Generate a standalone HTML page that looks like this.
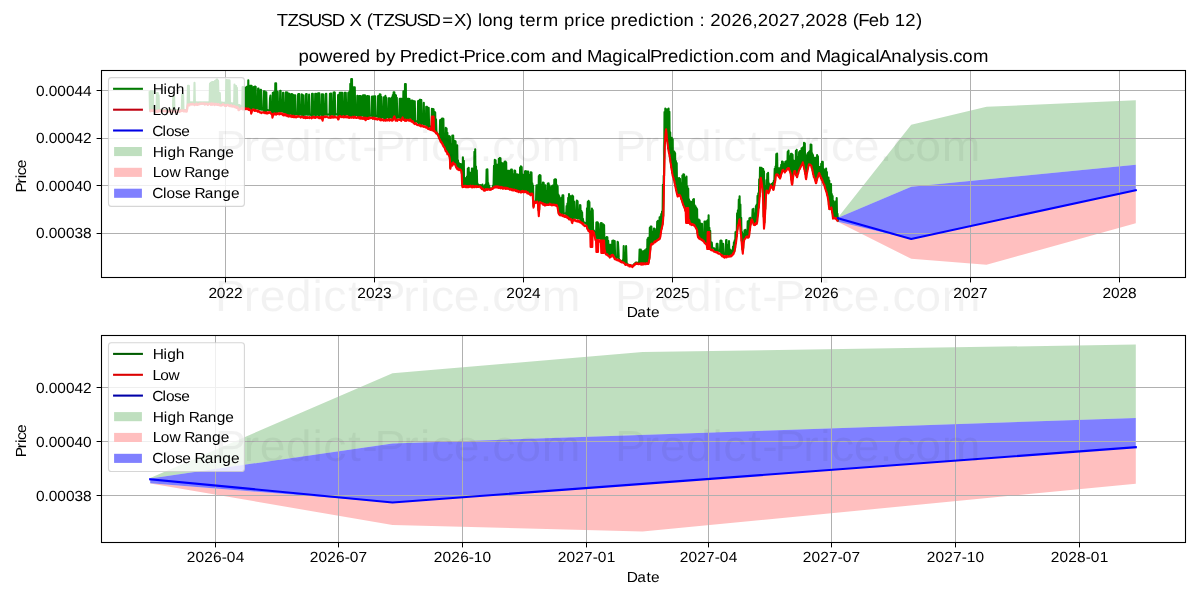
<!DOCTYPE html>
<html><head><meta charset="utf-8"><title>TZSUSD X price prediction</title>
<style>html,body{margin:0;padding:0;background:#fff;}body{width:1200px;height:600px;overflow:hidden;font-family:"Liberation Sans",sans-serif;}svg{display:block;}text{text-rendering:geometricPrecision;}</style></head>
<body>
<svg width="1200" height="600" viewBox="0 0 1200 600" font-family="'Liberation Sans', sans-serif">
<rect width="1200" height="600" fill="#fff"/>
<defs><filter id="nf" x="-5%" y="-50%" width="110%" height="200%"><feOffset dx="0" dy="0"/></filter><clipPath id="c1"><rect x="101.5" y="70.5" width="1084" height="207"/></clipPath><clipPath id="c2"><rect x="101.5" y="335.5" width="1084" height="207"/></clipPath></defs>
<g clip-path="url(#c1)">
<polygon points="838,217.6 911.2,124.8 986.5,106.8 1135.8,100.2 1135.8,164.7 911.2,186.8 838,217.8" fill="#008000" fill-opacity="0.25"/>
<polygon points="838,221.8 911.2,238.9 1135.8,190.2 1135.8,223.2 986.5,264.8 911.2,258.8 838,222" fill="#ff0000" fill-opacity="0.25"/>
<polygon points="838,217.8 911.2,186.8 1135.8,164.7 1135.8,190.2 911.2,238.9 838,221.8" fill="#0000ff" fill-opacity="0.5"/>
</g>
<line x1="225.5" y1="70.5" x2="225.5" y2="277.5" stroke="#b0b0b0" stroke-width="1"/>
<line x1="374.5" y1="70.5" x2="374.5" y2="277.5" stroke="#b0b0b0" stroke-width="1"/>
<line x1="523.5" y1="70.5" x2="523.5" y2="277.5" stroke="#b0b0b0" stroke-width="1"/>
<line x1="672.5" y1="70.5" x2="672.5" y2="277.5" stroke="#b0b0b0" stroke-width="1"/>
<line x1="821.5" y1="70.5" x2="821.5" y2="277.5" stroke="#b0b0b0" stroke-width="1"/>
<line x1="970.5" y1="70.5" x2="970.5" y2="277.5" stroke="#b0b0b0" stroke-width="1"/>
<line x1="1119.5" y1="70.5" x2="1119.5" y2="277.5" stroke="#b0b0b0" stroke-width="1"/>
<line x1="101.5" y1="90.5" x2="1185.5" y2="90.5" stroke="#b0b0b0" stroke-width="1"/>
<line x1="101.5" y1="138.5" x2="1185.5" y2="138.5" stroke="#b0b0b0" stroke-width="1"/>
<line x1="101.5" y1="185.5" x2="1185.5" y2="185.5" stroke="#b0b0b0" stroke-width="1"/>
<line x1="101.5" y1="233.5" x2="1185.5" y2="233.5" stroke="#b0b0b0" stroke-width="1"/>
<g clip-path="url(#c1)" fill="none" stroke-linejoin="round">
<polyline points="149.6,91.2 150,110.4 150.4,91.2 150.8,110.4 151.2,91.2 151.6,110.4 152,91.2 152.5,110.4 152.9,91.2 153.3,110.4 153.7,109.3 154.1,110.4 154.5,110 154.9,110.4 155.3,110 155.7,110.4 156.1,110 156.5,110.4 156.9,93 157.4,110.4 157.8,93 158.2,110.4 158.6,95.3 159,110.4 159.4,110 159.8,110.4 160.2,110 160.6,110.4 161,110 161.4,110.4 161.8,110 162.2,110.4 162.7,110 163.1,110.5 163.5,110 163.9,110.5 164.3,110 164.7,110.5 165.1,110 165.5,110.5 165.9,110 166.3,110.5 166.7,110 167.1,110.5 167.6,110 168,110.6 168.4,110 168.8,110.6 169.2,110 169.6,110.6 170,110 170.4,110.6 170.8,110 171.2,110.6 171.6,110 172,110.6 172.4,110 172.9,110.5 173.3,96.9 173.7,110.5 174.1,96 174.5,110.5 174.9,110 175.3,110.5 175.7,110 176.1,110.5 176.5,110 176.9,110.5 177.3,110 177.8,110.4 178.2,110 178.6,110.4 179,110 179.4,110.4 179.8,110 180.2,110.4 180.6,110 181,110.4 181.4,109.3 181.8,110.4 182.2,94.5 182.6,110.4 183.1,94.5 183.5,110.4 183.9,110 184.3,110.4 184.7,110 185.1,110.4 185.5,110 185.9,110.4 186.3,110 186.7,110.4 187.1,109 187.5,104.8 188,85.8 188.4,104.2 188.8,85.8 189.2,104.1 189.6,102.4 190,104.1 190.4,102.4 190.8,104 191.2,102.4 191.6,104 192,102.4 192.4,103.9 192.8,102.4 193.3,103.9 193.7,102.4 194.1,103.9 194.5,82.7 194.9,103.8 195.3,102.4 195.7,103.8 196.1,102.4 196.5,103.7 196.9,102.4 197.3,103.7 197.7,102.4 198.2,103.7 198.6,102.4 199,103.6 199.4,102.4 199.8,103.6 200.2,102.4 200.6,103.6 201,102.4 201.4,103.6 201.8,102.4 202.2,103.6 202.6,102.4 203,103.6 203.5,102.4 203.9,103.6 204.3,102.4 204.7,103.6 205.1,102.4 205.5,103.6 205.9,102.4 206.3,103.6 206.7,102.4 207.1,103.6 207.5,102.4 207.9,103.6 208.4,102.4 208.8,103.6 209.2,102.4 209.6,103.6 210,83.5 210.4,103.6 210.8,82.9 211.2,103.6 211.6,82.2 212,103.7 212.4,82.1 212.8,103.7 213.2,82 213.7,103.7 214.1,81.9 214.5,103.7 214.9,81.1 215.3,103.7 215.7,80.9 216.1,103.8 216.5,79.5 216.9,103.8 217.3,79.5 217.7,103.9 218.1,80.9 218.6,103.9 219,93 219.4,104 219.8,93 220.2,104.1 220.6,102.6 221,104.7 221.4,102.6 221.8,104.8 222.2,102.6 222.6,104.4 223,102.8 223.4,104.3 223.9,102.8 224.3,104.4 224.7,102.8 225.1,104.5 225.5,102.8 225.9,104.6 226.3,80 226.7,104.7 227.1,80.3 227.5,104.8 227.9,80.3 228.3,104.8 228.8,80.3 229.2,104.9 229.6,80.5 230,105 230.4,103.2 230.8,105.1 231.2,103.2 231.6,105.3 232,103.3 232.4,105.4 232.8,103.5 233.2,105.6 233.6,103.5 234.1,105.7 234.5,84.6 234.9,105.9 235.3,85.8 235.7,106.2 236.1,86 236.5,106.5 236.9,87.7 237.3,106.8 237.7,105 238.1,108.1 238.5,105.1 239,109.2 239.4,105.1 239.8,108.2 240.2,105.8 240.6,107.9 241,105.9 241.4,108 241.8,106 242.2,108 242.6,87 243,108.1 243.4,87.1 243.8,108.1 244.3,87.7 244.7,108.1 245.1,87.8 245.5,108.2 245.9,87.6 246.3,108.3 246.7,86.7 247.1,108.4 247.5,86.5 247.9,108.6 248.3,80.3 248.7,108.7 249.2,85.9 249.6,108.8 250,85.8 250.4,109.2 250.8,85.8 251.2,112.4 251.6,85.8 252,108.3 252.4,107.6 252.8,107.6 253.2,107.7 253.6,87 254,87 254.5,109.8 254.9,86.6 255.3,109.8 255.7,86.7 256.1,107.9 256.5,108.1 256.9,108.3 257.3,108.4 257.7,108.6 258.1,88.5 258.5,88.6 258.9,109.1 259.4,109.2 259.8,109.4 260.2,109.5 260.6,89.9 261,89.9 261.4,109.8 261.8,109.8 262.2,109.8 262.6,109.8 263,109.8 263.4,109.8 263.8,91.2 264.2,111.8 264.7,91.3 265.1,111.8 265.5,92.2 265.9,111.9 266.3,92.3 266.7,110 267.1,110.1 267.5,110.1 267.9,110.2 268.3,110.2 268.7,110.2 269.1,110.3 269.6,110.3 270,98.4 270.4,95.6 270.8,110.6 271.2,110.7 271.6,110.8 272,112.1 272.4,114.6 272.8,92.7 273.2,113.9 273.6,92.3 274,113.1 274.4,92.3 274.9,113.2 275.3,83.3 275.7,113.2 276.1,83.3 276.5,113.2 276.9,92 277.3,113.3 277.7,91.9 278.1,111.3 278.5,111.3 278.9,111.4 279.3,111.4 279.8,111.4 280.2,90.8 280.6,90.8 281,111.5 281.4,111.5 281.8,111.5 282.2,111.6 282.6,111.7 283,92.7 283.4,92.8 283.8,112 284.2,112.1 284.6,112.2 285.1,112.3 285.5,112.5 285.9,92.4 286.3,114.7 286.7,92.5 287.1,114.9 287.5,92.6 287.9,115.1 288.3,93.7 288.7,115.3 289.1,93.9 289.5,93.9 290,113.6 290.4,113.6 290.8,113.7 291.2,113.7 291.6,94.1 292,115.8 292.4,94.2 292.8,115.9 293.2,95.1 293.6,115.9 294,95.2 294.4,116 294.8,95.3 295.3,95.3 295.7,114.1 296.1,114.2 296.5,114.2 296.9,114.3 297.3,114.3 297.7,114.3 298.1,94.2 298.5,116.4 298.9,94.1 299.3,94.1 299.7,114.5 300.2,114.5 300.6,114.6 301,114.6 301.4,114.6 301.8,94.2 302.2,95.1 302.6,116.7 303,95.2 303.4,95.2 303.8,115.1 304.2,114.7 304.6,114.7 305,114.7 305.5,114.7 305.9,94.2 306.3,94.1 306.7,94 307.1,114.7 307.5,114.7 307.9,114.8 308.3,114.8 308.7,114.8 309.1,94.5 309.5,114.8 309.9,114.8 310.4,114.8 310.8,114.8 311.2,115.1 311.6,116 312,93.8 312.4,116.8 312.8,93.8 313.2,114.8 313.6,114.8 314,114.8 314.4,114.8 314.8,114.8 315.2,93.7 315.7,116.8 316.1,93.7 316.5,114.8 316.9,114.8 317.3,114.8 317.7,114.8 318.1,93.3 318.5,93.3 318.9,116.8 319.3,93.3 319.7,114.8 320.1,114.8 320.6,114.8 321,114.8 321.4,114.8 321.8,94.3 322.2,118.9 322.6,94.4 323,118.2 323.4,94.5 323.8,114.8 324.2,114.8 324.6,114.7 325,114.7 325.4,114.7 325.9,93.7 326.3,93.7 326.7,114.6 327.1,114.6 327.5,114.6 327.9,114.6 328.3,114.6 328.7,114.5 329.1,114.5 329.5,114.5 329.9,93.7 330.3,116.5 330.8,93.6 331.2,93.6 331.6,114.4 332,114.4 332.4,114.4 332.8,114.4 333.2,114.4 333.6,92.5 334,92.4 334.4,116.4 334.8,92.6 335.2,114.4 335.6,114.4 336.1,114.4 336.5,114.4 336.9,114.4 337.3,114.4 337.7,114.8 338.1,95 338.5,118.5 338.9,94.7 339.3,116.3 339.7,92.9 340.1,116 340.5,92.8 341,116.1 341.4,92.8 341.8,116.1 342.2,92.8 342.6,114.2 343,114.2 343.4,114.2 343.8,114.3 344.2,114.3 344.6,92.8 345,116.3 345.4,92.8 345.8,92.8 346.3,114.4 346.7,114.4 347.1,114.5 347.5,114.5 347.9,114.5 348.3,92.8 348.7,92.8 349.1,116.6 349.5,91.6 349.9,116.7 350.3,83.9 350.7,116.7 351.2,79.1 351.6,116.8 352,79.1 352.4,116.8 352.8,87.4 353.2,116.9 353.6,87.4 354,116.9 354.4,87.4 354.8,87.4 355.2,115 355.6,115 356,115 356.5,115.1 356.9,115.1 357.3,95.8 357.7,96 358.1,117.2 358.5,96.2 358.9,117.2 359.3,96.1 359.7,117.3 360.1,96.1 360.5,117.3 360.9,96.1 361.4,115.4 361.8,115.4 362.2,115.4 362.6,115.5 363,95.4 363.4,95.4 363.8,117.5 364.2,95.3 364.6,117.6 365,95.3 365.4,117.4 365.8,116.7 366.2,115.7 366.7,115.7 367.1,96.1 367.5,96.1 367.9,117.7 368.3,96.2 368.7,117.7 369.1,96.2 369.5,115.7 369.9,115.7 370.3,115.7 370.7,115.7 371.1,115.7 371.6,115.7 372,96.5 372.4,96.5 372.8,117.7 373.2,96.5 373.6,117.7 374,96.2 374.4,117.7 374.8,96.2 375.2,96.2 375.6,115.9 376,116 376.4,116.1 376.9,116.2 377.3,116.3 377.7,116.4 378.1,96 378.5,118.6 378.9,95.7 379.3,118.8 379.7,94.2 380.1,118.9 380.5,94.5 380.9,119.1 381.3,96.9 381.8,117.3 382.2,117.3 382.6,117.3 383,117.3 383.4,117.3 383.8,97.3 384.2,119.3 384.6,97 385,119.3 385.4,95.9 385.8,119.3 386.2,97.6 386.6,117.3 387.1,117.3 387.5,117.4 387.9,117.4 388.3,117.4 388.7,98.3 389.1,119.4 389.5,98.3 389.9,98.2 390.3,117.4 390.7,117.4 391.1,117.4 391.5,117.4 392,97.2 392.4,119.4 392.8,95.1 393.2,118.8 393.6,92.4 394,116.3 394.4,92.4 394.8,117.5 395.2,94.8 395.6,119.4 396,95.3 396.4,119.4 396.8,97.7 397.3,117.5 397.7,117.5 398.1,117.5 398.5,117.5 398.9,117.5 399.3,117.5 399.7,98.7 400.1,98.7 400.5,119.6 400.9,98.7 401.3,119.6 401.7,98.7 402.2,117.8 402.6,98.7 403,118.2 403.4,91.2 403.8,119.7 404.2,98.7 404.6,119.6 405,84.1 405.4,119.6 405.8,84.1 406.2,119.6 406.6,98.7 407,119.5 407.5,98.7 407.9,119.5 408.3,98.7 408.7,119.5 409.1,98.9 409.5,99 409.9,117.4 410.3,117.6 410.7,117.9 411.1,118.2 411.5,100.5 411.9,120.8 412.4,100.6 412.8,121.3 413.2,101.1 413.6,121.9 414,101.2 414.4,122.5 414.8,101.2 415.2,121 415.6,121.1 416,121.3 416.4,121.5 416.8,121.6 417.2,121.8 417.7,122 418.1,101 418.5,124.3 418.9,100.8 419.3,124.6 419.7,99.9 420.1,124.9 420.5,99.8 420.9,125.2 421.3,100.1 421.7,123.4 422.1,123.5 422.6,123.7 423,123.8 423.4,123.9 423.8,102.7 424.2,124.2 424.6,124.3 425,124.4 425.4,124.6 425.8,124.7 426.2,106.7 426.6,127.1 427,106.9 427.4,127.4 427.9,107.8 428.3,127.7 428.7,107.9 429.1,126 429.5,126.2 429.9,126.4 430.3,126.6 430.7,126.8 431.1,127 431.5,127.2 431.9,108.9 432.3,129.8 432.8,109.1 433.2,130.3 433.6,109.4 434,130.6 434.4,111.7 434.8,130.8 435.2,112.4 435.6,131.6 436,119.4 436.4,130.6 436.8,133 437.2,133.5 437.6,134 438.1,134.5 438.5,135.6 438.9,136.6 439.3,137.6 439.7,136.6 440.1,120 440.5,140.2 440.9,119.8 441.3,141.6 441.7,118.7 442.1,143 442.5,118.6 443,144.3 443.4,118.9 443.8,145.9 444.2,146.8 444.6,147.6 445,148.4 445.4,149.2 445.8,127.8 446.2,150.8 446.6,128.5 447,152.1 447.4,132.8 447.8,153.5 448.3,138.3 448.7,154.8 449.1,136.1 449.5,155.7 449.9,136.5 450.3,167.8 450.7,144.7 451.1,161.8 451.5,144 451.9,165.1 452.3,135.6 452.7,163.2 453.2,135.6 453.6,163.2 454,163.9 454.4,163.7 454.8,140.8 455.2,164.2 455.6,141.4 456,166.7 456.4,167 456.8,167.4 457.2,145.3 457.6,168.1 458,160.2 458.5,168.6 458.9,163.1 459.3,169 459.7,163.9 460.1,169.4 460.5,164.1 460.9,169.7 461.3,165 461.7,173.1 462.1,164 462.5,185.9 462.9,157.4 463.4,185.9 463.8,160.8 464.2,185.9 464.6,181.9 465,185.9 465.4,178.6 465.8,185.9 466.2,177.7 466.6,185.9 467,176.5 467.4,185.9 467.8,168.5 468.2,185.9 468.7,167.7 469.1,185.9 469.5,172.3 469.9,185.9 470.3,172.8 470.7,185.9 471.1,185.9 471.5,185.9 471.9,168.6 472.3,185.9 472.7,168.8 473.1,185.9 473.6,169.7 474,185.9 474.4,151.7 474.8,185.9 475.2,149.4 475.6,185.9 476,166.6 476.4,185.9 476.8,170.2 477.2,185.9 477.6,183.6 478,185.9 478.4,185 478.9,185.9 479.3,185.3 479.7,185.9 480.1,185.2 480.5,186.5 480.9,185.3 481.3,187.5 481.7,185.3 482.1,188.5 482.5,184.5 482.9,188.9 483.3,186.4 483.8,189.3 484.2,186.7 484.6,189.3 485,185 485.4,189.2 485.8,184.2 486.2,189.1 486.6,169.5 487,189 487.4,169.4 487.8,188.9 488.2,183.1 488.6,188.8 489.1,185.5 489.5,188.7 489.9,188.7 490.3,188.6 490.7,188.6 491.1,188.5 491.5,188.5 491.9,188.4 492.3,188.2 492.7,187.9 493.1,185.5 493.5,187.2 494,165.7 494.4,186.7 494.8,159.7 495.2,186.3 495.6,160.3 496,185.9 496.4,164.5 496.8,186.1 497.2,164.8 497.6,186.3 498,186.4 498.4,186.5 498.8,158.8 499.3,186.7 499.7,158.1 500.1,186.9 500.5,158.2 500.9,187 501.3,162.5 501.7,187.1 502.1,163.2 502.5,187.2 502.9,163.4 503.3,187.2 503.7,166.8 504.2,187.3 504.6,161.7 505,187.4 505.4,161.5 505.8,187.6 506.2,162.4 506.6,187.9 507,175.2 507.4,188.1 507.8,170.8 508.2,188.4 508.6,170.9 509,188.6 509.5,170.8 509.9,188.9 510.3,175.5 510.7,189 511.1,169.6 511.5,189.2 511.9,169.5 512.3,189.4 512.7,174 513.1,189.5 513.5,189.6 513.9,189.7 514.4,170.5 514.8,189.9 515.2,170.9 515.6,190 516,180.4 516.4,190.3 516.8,174.4 517.2,190.5 517.6,174.6 518,190.7 518.4,175 518.8,190.9 519.2,174.6 519.7,191.1 520.1,167.5 520.5,191.2 520.9,166.2 521.3,191.1 521.7,167.1 522.1,191.1 522.5,174.2 522.9,191 523.3,174.8 523.7,191 524.1,181 524.6,190.9 525,171.3 525.4,191.1 525.8,171 526.2,191.5 526.6,179.3 527,191.9 527.4,171.5 527.8,192.3 528.2,171.5 528.6,193 529,174.9 529.4,193.8 529.9,175.6 530.3,194.2 530.7,172.4 531.1,193.7 531.5,172.5 531.9,192.8 532.3,183.4 532.7,195 533.1,185.5 533.5,206.2 533.9,203.9 534.3,201.9 534.8,201.8 535.2,201.8 535.6,201.7 536,201.7 536.4,185.5 536.8,201.5 537.2,185.2 537.6,201.4 538,185.8 538.4,210.1 538.8,176 539.2,209.5 539.6,175 540.1,202 540.5,175.6 540.9,202.4 541.3,184.5 541.7,202.8 542.1,184.7 542.5,203.2 542.9,182.6 543.3,203.6 543.7,182.9 544.1,204 544.5,185.3 545,204.4 545.4,185.4 545.8,204.3 546.2,191 546.6,204.2 547,191.9 547.4,204.2 547.8,183.5 548.2,204.1 548.6,183.3 549,204 549.4,185.2 549.8,203.9 550.3,187 550.7,204 551.1,193.1 551.5,204.2 551.9,186 552.3,204.4 552.7,185.5 553.1,204.5 553.5,204.6 553.9,204.7 554.3,179.8 554.7,204.8 555.2,179.2 555.6,205 556,179.6 556.4,205.2 556.8,185.1 557.2,205.3 557.6,186.2 558,209.5 558.4,194.6 558.8,213.5 559.2,196.1 559.6,213.7 560,201.2 560.5,214 560.9,198 561.3,214.2 561.7,197.6 562.1,214.4 562.5,195.3 562.9,214.8 563.3,195.3 563.7,213.1 564.1,213.3 564.5,213.4 564.9,213.6 565.4,213.7 565.8,213.9 566.2,214.1 566.6,206 567,216.4 567.4,203.6 567.8,217.1 568.2,197.9 568.6,217.7 569,194 569.4,218.4 569.8,196.1 570.2,219 570.7,196.2 571.1,219.3 571.5,197.3 571.9,222.3 572.3,195.5 572.7,220.2 573.1,196.2 573.5,219.5 573.9,201.3 574.3,201.8 574.7,217.7 575.1,217.8 575.6,217.8 576,217.9 576.4,218 576.8,200.5 577.2,200.8 577.6,201.4 578,218.4 578.4,218.5 578.8,218.6 579.2,218.7 579.6,218.8 580,205.1 580.4,205.2 580.9,221.6 581.3,210.9 581.7,222.4 582.1,212.2 582.5,223.1 582.9,218.7 583.3,221.8 583.7,222.1 584.1,222.5 584.5,222.7 584.9,222.9 585.3,223.1 585.8,223.3 586.2,223.7 586.6,224.5 587,208.4 587.4,228.2 587.8,201.8 588.2,229.6 588.6,200.7 589,230.4 589.4,202 589.8,231.2 590.2,211.4 590.6,231.6 591.1,211.5 591.5,231.8 591.9,208.6 592.3,232 592.7,210 593.1,230.2 593.5,230.3 593.9,230.4 594.3,231.9 594.7,233.8 595.1,235.7 595.5,237.4 596,237.5 596.4,222.4 596.8,222.3 597.2,239.8 597.6,222.2 598,223.1 598.4,238 598.8,238.1 599.2,238.2 599.6,238.3 600,238.5 600.4,223.9 600.8,223.2 601.3,242.9 601.7,223.1 602.1,244.5 602.5,228.1 602.9,246.2 603.3,224.4 603.7,247.8 604.1,225 604.5,249.5 604.9,237.7 605.3,251.6 605.7,237.9 606.2,253.5 606.6,237.1 607,254.1 607.4,237.4 607.8,254.7 608.2,240.7 608.6,255.4 609,245.8 609.4,256 609.8,244.8 610.2,256.2 610.6,244.7 611,255.6 611.5,245.1 611.9,254.9 612.3,240.9 612.7,254.7 613.1,240.5 613.5,256 613.9,240.9 614.3,257.3 614.7,241 615.1,256.5 615.5,258.6 615.9,258.8 616.4,258.9 616.8,257.1 617.2,257.3 617.6,241.7 618,242.7 618.4,249.2 618.8,257.9 619.2,260.1 619.6,260.2 620,260.4 620.4,260.7 620.8,260.9 621.2,261.1 621.7,261.4 622.1,261.6 622.5,261.9 622.9,260.1 623.3,260.4 623.7,246 624.1,262.9 624.5,263.1 624.9,263.4 625.3,263.5 625.7,263.7 626.1,246 626.6,262 627,264.1 627.4,264.3 627.8,264.4 628.2,264.6 628.6,264.7 629,264.9 629.4,265 629.8,265.1 630.2,265.2 630.6,265.4 631,265.5 631.4,265.6 631.9,265.7 632.3,265.8 632.7,265.7 633.1,265.3 633.5,264.9 633.9,264.5 634.3,264.1 634.7,263.7 635.1,263.3 635.5,262.9 635.9,262.5 636.3,262.5 636.8,262.6 637.2,262.7 637.6,262.8 638,262.9 638.4,263 638.8,263.1 639.2,261.2 639.6,249.5 640,251.6 640.4,263.4 640.8,249.5 641.2,263.4 641.6,250.8 642.1,263.4 642.5,260.8 642.9,263.4 643.3,251.6 643.7,263.4 644.1,250.9 644.5,263.4 644.9,250.2 645.3,263.3 645.7,250 646.1,263.2 646.5,248.9 647,263 647.4,239.3 647.8,262.8 648.2,237.8 648.6,262.3 649,240.1 649.4,257.9 649.8,227.7 650.2,249.9 650.6,226.5 651,244.4 651.4,226.6 651.8,243.7 652.3,231.7 652.7,243 653.1,231.5 653.5,242.3 653.9,228.6 654.3,241.8 654.7,228.9 655.1,241.3 655.5,231 655.9,240.9 656.3,230.4 656.7,240.5 657.2,221.6 657.6,239.8 658,220.7 658.4,239 658.8,224 659.2,238.2 659.6,217.2 660,237.4 660.4,216.6 660.8,233 661.2,214.1 661.6,228.7 662,211.6 662.5,224.3 662.9,184.7 663.3,216 663.7,175.7 664.1,175.9 664.5,112.1 664.9,143.2 665.3,108.6 665.7,131.5 666.1,109.3 666.5,133.2 666.9,109.5 667.4,140.9 667.8,109.4 668.2,148.2 668.6,108.6 669,152.3 669.4,111.7 669.8,156.4 670.2,132.2 670.6,161.7 671,141.1 671.4,167.3 671.8,137.8 672.2,172.7 672.7,139.3 673.1,176.4 673.5,158.4 673.9,179.4 674.3,151.6 674.7,182.3 675.1,153.1 675.5,186.1 675.9,161 676.3,190.5 676.7,163 677.1,194 677.6,178.1 678,195.2 678.4,179.8 678.8,194.9 679.2,178.1 679.6,194.6 680,178.7 680.4,195.6 680.8,183.7 681.2,198.1 681.6,183.1 682,200.5 682.4,175.5 682.9,203 683.3,174.3 683.7,205.3 684.1,174.5 684.5,207.6 684.9,177.9 685.3,209.9 685.7,177.8 686.1,211.9 686.5,176.6 686.9,213.8 687.3,186.2 687.8,215.7 688.2,188.5 688.6,217.6 689,199.4 689.4,220.6 689.8,201 690.2,223.5 690.6,223.6 691,223.7 691.4,201.9 691.8,223.9 692.2,201.9 692.6,224.1 693.1,199.5 693.5,224.3 693.9,199.1 694.3,224.9 694.7,205.2 695.1,226.2 695.5,206.2 695.9,227.6 696.3,207.9 696.7,228.9 697.1,209.1 697.5,233.2 698,225.4 698.4,236.7 698.8,219.6 699.2,237.3 699.6,220.3 700,237.9 700.4,223.4 700.8,238.5 701.2,223.8 701.6,239.1 702,223.9 702.4,239.8 702.8,240.2 703.3,240.7 703.7,241.1 704.1,241.5 704.5,221.6 704.9,242.3 705.3,221.5 705.7,243.1 706.1,243.6 706.5,244.4 706.9,221 707.3,245.7 707.7,220 708.2,246.6 708.6,215.2 709,247.4 709.4,227.8 709.8,248.2 710.2,230.8 710.6,248.7 711,242 711.4,249.1 711.8,242.5 712.2,247.5 712.6,247.7 713,247.9 713.5,248.1 713.9,248.3 714.3,248.5 714.7,250.7 715.1,250.9 715.5,251.1 715.9,251.4 716.3,251.6 716.7,243.9 717.1,252 717.5,243.8 717.9,250.4 718.4,250.6 718.8,250.8 719.2,251 719.6,251.2 720,251.4 720.4,240.7 720.8,240.6 721.2,254.3 721.6,240.9 722,254.9 722.4,243.7 722.8,255.5 723.2,243.9 723.7,254.1 724.1,254.4 724.5,254.3 724.9,254.3 725.3,254.2 725.7,254.2 726.1,240.2 726.5,240 726.9,256 727.3,244.9 727.7,255.9 728.1,245.4 728.6,255.8 729,241 729.4,255.6 729.8,249.3 730.2,255.4 730.6,250.1 731,255.1 731.4,250.9 731.8,254.9 732.2,250.6 732.6,254 733,246.5 733.4,252.9 733.9,242.2 734.3,251.7 734.7,240.4 735.1,247.9 735.5,232 735.9,243 736.3,231.5 736.7,236.3 737.1,213.3 737.5,229.4 737.9,210.2 738.3,223.8 738.8,199.6 739.2,220 739.6,196.2 740,223.5 740.4,204.6 740.8,232.2 741.2,217.8 741.6,240.8 742,232.1 742.4,249.4 742.8,233.8 743.2,248.3 743.6,235.6 744.1,239.3 744.5,230.3 744.9,238.1 745.3,229.7 745.7,236.9 746.1,236.4 746.5,236.4 746.9,236.4 747.3,236.4 747.7,221.3 748.1,236.4 748.5,220.7 749,236.4 749.4,218.3 749.8,230.3 750.2,217.8 750.6,224.5 751,221.8 751.4,219.1 751.8,219.1 752.2,220.1 752.6,209.4 753,222.1 753.4,208.8 753.8,224 754.3,213.3 754.7,224 755.1,213.3 755.5,223.4 755.9,206 756.3,222.9 756.7,204.6 757.1,221.5 757.5,195.9 757.9,215 758.3,193.2 758.7,207.7 759.2,179.3 759.6,196.4 760,167.6 760.4,179.6 760.8,169.2 761.2,180.1 761.6,167.7 762,184.5 762.4,168.8 762.8,192.6 763.2,169 763.6,216.8 764,171.3 764.5,222.6 764.9,186.4 765.3,209 765.7,185.9 766.1,193.5 766.5,180 766.9,190 767.3,173.7 767.7,191.2 768.1,172.9 768.5,192.3 768.9,183.4 769.4,190 769.8,184.9 770.2,187.7 770.6,185.1 771,185.4 771.4,183.9 771.8,186.7 772.2,184 772.6,188 773,182.9 773.4,189.3 773.8,180.8 774.2,185.4 774.7,168.9 775.1,180.9 775.5,166.6 775.9,174.4 776.3,154 776.7,173.7 777.1,153.6 777.5,174.2 777.9,167.9 778.3,175 778.7,169.9 779.1,176.4 779.6,168.2 780,177.8 780.4,167.6 780.8,175.3 781.2,164.7 781.6,172.5 782,161.5 782.4,169.7 782.8,161.8 783.2,170 783.6,163.7 784,170.6 784.4,164 784.9,171.3 785.3,161.9 785.7,170.5 786.1,161.4 786.5,169.5 786.9,161 787.3,168.4 787.7,151.7 788.1,167.4 788.5,150.5 788.9,168.1 789.3,156 789.8,170.3 790.2,156.9 790.6,173 791,153.9 791.4,179.8 791.8,153.8 792.2,183.5 792.6,154.7 793,177.8 793.4,160.4 793.8,172.7 794.2,160.7 794.6,169.9 795.1,161.8 795.5,172.5 795.9,150.8 796.3,175.1 796.7,149.7 797.1,177 797.5,156.8 797.9,173.8 798.3,157.6 798.7,170.5 799.1,152.1 799.5,168.3 800,151.1 800.4,166.7 800.8,151.8 801.2,165.1 801.6,148.2 802,163.7 802.4,147.7 802.8,162.2 803.2,147.1 803.6,165 804,142.9 804.4,169.1 804.8,143.3 805.3,173.9 805.7,154 806.1,178 806.5,156 806.9,173.1 807.3,155.5 807.7,168.7 808.1,152.7 808.5,165.7 808.9,152 809.3,164 809.7,151 810.2,164.2 810.6,144.5 811,164.4 811.4,144.7 811.8,167.5 812.2,153.4 812.6,170.8 813,155 813.4,174.1 813.8,159.5 814.2,177.1 814.6,157.8 815,179.5 815.5,157.8 815.9,182 816.3,157.5 816.7,180.1 817.1,155.1 817.5,177.4 817.9,156.3 818.3,175 818.7,167.2 819.1,173.2 819.5,167 819.9,174.9 820.4,167.4 820.8,176.7 821.2,163.9 821.6,178.5 822,161.8 822.4,180.3 822.8,161.9 823.2,182.2 823.6,168.7 824,184.1 824.4,169.9 824.8,186 825.2,169.7 825.7,188.8 826.1,168.6 826.5,191.8 826.9,172 827.3,194.8 827.7,178.5 828.1,198.2 828.5,177.5 828.9,204.8 829.3,180.6 829.7,209.2 830.1,185.3 830.6,208.3 831,184 831.4,207.5 831.8,194 832.2,212 832.6,196.1 833,217.4 833.4,200.9 833.8,217.5 834.2,204.6 834.6,217.7 835,202 835.4,217.8 835.9,201.3 836.3,218.3 836.7,198.1 837.1,219.5 837.5,213.9 837.9,220.7 838,217.5" stroke="#008000" stroke-width="2.08"/>
<polyline points="149.6,110.7 150,110.4 150.4,111.3 150.8,110.3 151.2,111.1 151.6,110.8 152,110.2 152.5,111 152.9,110.2 153.3,110.9 153.7,110.3 154.1,110.3 154.5,110.9 154.9,111.6 155.3,110.4 155.7,110.5 156.1,111.2 156.5,111.8 156.9,111.1 157.4,110.8 157.8,111.8 158.2,110.2 158.6,111.6 159,110.6 159.4,110.4 159.8,110.4 160.2,110.7 160.6,111.5 161,110.5 161.4,111.2 161.8,111.3 162.2,110.8 162.7,111.1 163.1,110.3 163.5,110.3 163.9,110.6 164.3,111.4 164.7,111 165.1,110.8 165.5,111.3 165.9,111 166.3,110.8 166.7,111.6 167.1,111.5 167.6,110.7 168,111.3 168.4,111.2 168.8,111.8 169.2,111.6 169.6,110.8 170,112 170.4,110.5 170.8,111 171.2,111.6 171.6,110.6 172,111.1 172.4,110.4 172.9,111.4 173.3,111.6 173.7,111.3 174.1,111.8 174.5,110.8 174.9,111.4 175.3,111.3 175.7,111.2 176.1,111 176.5,111.6 176.9,111.8 177.3,111 177.8,111.3 178.2,110.3 178.6,111.4 179,111.3 179.4,111.9 179.8,111.6 180.2,110.6 180.6,110.8 181,111.3 181.4,110.2 181.8,110.9 182.2,110.4 182.6,110.3 183.1,110.3 183.5,111.5 183.9,110.4 184.3,110.6 184.7,110.8 185.1,111.6 185.5,110.3 185.9,110.9 186.3,111.1 186.7,111.7 187.1,110.1 187.5,106 188,104.4 188.4,104.6 188.8,104.5 189.2,105.4 189.6,105.5 190,104.1 190.4,104.1 190.8,104.2 191.2,104.1 191.6,104.6 192,104.7 192.4,104.1 192.8,103.7 193.3,104.4 193.7,104.2 194.1,104.6 194.5,105.2 194.9,104.7 195.3,104.4 195.7,104.6 196.1,104.7 196.5,103.6 196.9,105 197.3,104.8 197.7,104.9 198.2,104.8 198.6,104.1 199,104.1 199.4,103.6 199.8,104.4 200.2,103.5 200.6,103.5 201,103.7 201.4,103.6 201.8,103.9 202.2,103.4 202.6,103.4 203,103.6 203.5,103.5 203.9,104 204.3,103.4 204.7,104.8 205.1,104.4 205.5,103.6 205.9,103.8 206.3,103.9 206.7,104 207.1,103.6 207.5,104.8 207.9,105 208.4,104.1 208.8,104.2 209.2,103.5 209.6,103.5 210,104 210.4,103.8 210.8,104.8 211.2,103.7 211.6,103.4 212,105 212.4,104.3 212.8,103.7 213.2,104.3 213.7,103.5 214.1,104.3 214.5,105.1 214.9,104.9 215.3,104.7 215.7,103.9 216.1,104.1 216.5,103.8 216.9,104.9 217.3,104.5 217.7,104.9 218.1,104.2 218.6,104 219,105.1 219.4,105.4 219.8,105.2 220.2,105.2 220.6,105.5 221,105.7 221.4,105.1 221.8,105.5 222.2,105 222.6,104.2 223,104 223.4,104.5 223.9,104.5 224.3,105.3 224.7,105.8 225.1,105 225.5,105.9 225.9,106 226.3,106 226.7,105 227.1,104.8 227.5,104.9 227.9,104.9 228.3,104.9 228.8,105.7 229.2,106.2 229.6,106.1 230,105.6 230.4,105.9 230.8,106.3 231.2,105.1 231.6,106.2 232,106.7 232.4,106.5 232.8,106.5 233.2,106.1 233.6,105.7 234.1,106.8 234.5,106.1 234.9,107 235.3,107.4 235.7,106.6 236.1,106.8 236.5,107.9 236.9,107.6 237.3,106.9 237.7,107.3 238.1,108.1 238.5,110.2 239,110.3 239.4,108.7 239.8,109.3 240.2,109.3 240.6,108.8 241,108.3 241.4,108.7 241.8,108 242.2,107.8 242.6,109.5 243,109 243.4,108.7 243.8,109.4 244.3,108.6 244.7,109.3 245.1,109.3 245.5,108.3 245.9,108.4 246.3,108.6 246.7,108.5 247.1,109.2 247.5,108.7 247.9,109 248.3,108.6 248.7,110 249.2,109.1 249.6,109.4 250,109.6 250.4,110.5 250.8,110.4 251.2,113.7 251.6,112.5 252,111 252.4,110.3 252.8,109.4 253.2,110.2 253.6,109.8 254,109.5 254.5,110.9 254.9,109.9 255.3,110.4 255.7,110.9 256.1,110.6 256.5,110.4 256.9,110.9 257.3,111.1 257.7,111.7 258.1,110.7 258.5,111.6 258.9,111.2 259.4,111.4 259.8,112.5 260.2,112.2 260.6,112.4 261,112.8 261.4,113.1 261.8,112.3 262.2,112.6 262.6,112.4 263,112.4 263.4,112.7 263.8,112.3 264.2,112.5 264.7,112.4 265.1,113.2 265.5,112.8 265.9,113.1 266.3,113.3 266.7,112.2 267.1,112.8 267.5,113.5 267.9,113.3 268.3,112.2 268.7,112.2 269.1,112.8 269.6,112.2 270,112.6 270.4,112.4 270.8,113.5 271.2,113.8 271.6,114.1 272,114.1 272.4,117.6 272.8,116.6 273.2,113.9 273.6,114.4 274,114.5 274.4,113.3 274.9,114.5 275.3,113.6 275.7,113.8 276.1,114.7 276.5,114.4 276.9,113.3 277.3,113.8 277.7,113.9 278.1,113.7 278.5,113.4 278.9,113.7 279.3,114.4 279.8,113.2 280.2,114.1 280.6,113.9 281,113.2 281.4,113.8 281.8,114.3 282.2,114.2 282.6,113.6 283,115.3 283.4,115 283.8,115.4 284.2,114.1 284.6,114.4 285.1,114.2 285.5,115.5 285.9,114.8 286.3,114.6 286.7,115.2 287.1,116.2 287.5,116.1 287.9,115.3 288.3,115.2 288.7,116.6 289.1,116.1 289.5,116.4 290,115.5 290.4,115.5 290.8,116.6 291.2,116.2 291.6,115.6 292,117.1 292.4,116.7 292.8,117 293.2,115.8 293.6,117.2 294,115.9 294.4,117.2 294.8,116.6 295.3,116.4 295.7,116.8 296.1,117.5 296.5,116.4 296.9,116.2 297.3,116.9 297.7,116.5 298.1,116.3 298.5,116.4 298.9,116.3 299.3,116.6 299.7,116.8 300.2,116.8 300.6,117.6 301,116.8 301.4,117.2 301.8,116.7 302.2,117 302.6,116.5 303,117.5 303.4,117.6 303.8,118 304.2,117.4 304.6,116.8 305,117.3 305.5,118.1 305.9,116.7 306.3,117.9 306.7,117.2 307.1,117.3 307.5,117.9 307.9,117.2 308.3,117.4 308.7,117.7 309.1,118.2 309.5,117.1 309.9,117.9 310.4,117.7 310.8,117.6 311.2,117.6 311.6,118.3 312,117.5 312.4,116.8 312.8,116.7 313.2,117.8 313.6,117 314,116.8 314.4,116.7 314.8,118 315.2,118 315.7,117.7 316.1,117 316.5,117 316.9,117 317.3,117.3 317.7,116.8 318.1,117.3 318.5,117 318.9,118.2 319.3,118.2 319.7,117.5 320.1,117 320.6,118.2 321,117.1 321.4,117.2 321.8,116.6 322.2,119.3 322.6,120.7 323,118.8 323.4,116.9 323.8,117.4 324.2,116.5 324.6,116.9 325,116.6 325.4,117.1 325.9,116.5 326.3,116.4 326.7,116.9 327.1,116.8 327.5,117.3 327.9,117.2 328.3,117.6 328.7,117.4 329.1,117.5 329.5,117.7 329.9,116.9 330.3,116.8 330.8,117.9 331.2,116.4 331.6,117.4 332,117.2 332.4,116.2 332.8,117.6 333.2,117.7 333.6,117.2 334,117.4 334.4,117.5 334.8,116.4 335.2,117 335.6,117 336.1,117.6 336.5,117.5 336.9,117.6 337.3,117.1 337.7,118 338.1,119.4 338.5,119.5 338.9,116.9 339.3,116.1 339.7,116.1 340.1,116.4 340.5,116 341,117.2 341.4,116.8 341.8,116.9 342.2,117 342.6,117.1 343,116.8 343.4,116 343.8,117.4 344.2,117.3 344.6,116.9 345,117 345.4,117.2 345.8,116.3 346.3,117.4 346.7,116.6 347.1,116.3 347.5,116.7 347.9,117.5 348.3,116.7 348.7,117.6 349.1,118 349.5,117.2 349.9,117.1 350.3,117.3 350.7,117.6 351.2,117.8 351.6,117.6 352,117.6 352.4,116.7 352.8,116.8 353.2,117.1 353.6,117.9 354,117.2 354.4,117.7 354.8,116.7 355.2,116.9 355.6,117.2 356,117.9 356.5,118 356.9,118 357.3,117.4 357.7,117.8 358.1,117.7 358.5,117.7 358.9,117.2 359.3,118.5 359.7,117.4 360.1,118.7 360.5,118.7 360.9,117.1 361.4,117.9 361.8,118.5 362.2,118.8 362.6,118 363,117.7 363.4,117.6 363.8,118.9 364.2,117.7 364.6,118.3 365,117.7 365.4,120.1 365.8,120.1 366.2,117.7 366.7,118.8 367.1,118.3 367.5,119 367.9,118.6 368.3,117.8 368.7,119 369.1,118.3 369.5,117.5 369.9,117.5 370.3,118.3 370.7,118.2 371.1,118 371.6,117.7 372,118 372.4,118 372.8,118.9 373.2,117.5 373.6,118.7 374,118.9 374.4,117.7 374.8,119.1 375.2,118.8 375.6,119.2 376,118.3 376.4,118.5 376.9,118.6 377.3,119.7 377.7,119.1 378.1,118.8 378.5,119.1 378.9,118.9 379.3,118.6 379.7,118.8 380.1,120.1 380.5,119.3 380.9,120.5 381.3,119.4 381.8,119.5 382.2,119.9 382.6,119.4 383,119.7 383.4,120.7 383.8,120.6 384.2,120.5 384.6,120.1 385,120.6 385.4,120.7 385.8,120 386.2,120.3 386.6,119.2 387.1,120.3 387.5,119.9 387.9,120.4 388.3,120.2 388.7,119.6 389.1,119.2 389.5,120.7 389.9,119.3 390.3,119.9 390.7,119.7 391.1,119.6 391.5,120.4 392,120.8 392.4,119.6 392.8,120.3 393.2,119.1 393.6,118.2 394,116.7 394.4,116.3 394.8,117.6 395.2,118.9 395.6,120.7 396,120 396.4,119.6 396.8,120.7 397.3,120.9 397.7,120 398.1,119.5 398.5,119.6 398.9,119.4 399.3,119.9 399.7,119.4 400.1,119.7 400.5,119.8 400.9,120.3 401.3,120.9 401.7,119.9 402.2,118.2 402.6,117.4 403,118.8 403.4,119.7 403.8,120 404.2,119.5 404.6,119.9 405,121 405.4,119.6 405.8,120.2 406.2,120.4 406.6,120.8 407,119.7 407.5,119.7 407.9,119.7 408.3,119.9 408.7,120 409.1,120.8 409.5,120.6 409.9,120.6 410.3,119.4 410.7,119.7 411.1,121.1 411.5,121.7 411.9,121.3 412.4,121.8 412.8,121.1 413.2,122 413.6,123.2 414,123.3 414.4,123.7 414.8,124.2 415.2,123.2 415.6,123.1 416,123.3 416.4,124.1 416.8,124.5 417.2,125.1 417.7,124.9 418.1,125 418.5,125.3 418.9,125 419.3,125.3 419.7,124.6 420.1,126 420.5,125.2 420.9,126.5 421.3,126.1 421.7,125.7 422.1,125.5 422.6,125.8 423,126.6 423.4,126.8 423.8,126 424.2,126 424.6,126.9 425,127.1 425.4,127 425.8,126.9 426.2,127.7 426.6,126.8 427,127.5 427.4,127.9 427.9,128.9 428.3,128.6 428.7,129.1 429.1,128.6 429.5,128.3 429.9,128.5 430.3,130 430.7,129.7 431.1,129.3 431.5,129 431.9,116.5 432.3,130.5 432.8,116.5 433.2,130.5 433.6,116.5 434,131.2 434.4,131.6 434.8,131.3 435.2,131.3 435.6,132.5 436,133.4 436.4,132.7 436.8,132.8 437.2,133.8 437.6,134.5 438.1,135.5 438.5,135.6 438.9,137.7 439.3,138.6 439.7,139.2 440.1,139.7 440.5,141.6 440.9,141.2 441.3,142.7 441.7,142.4 442.1,143.1 442.5,144.7 443,144.6 443.4,146.5 443.8,146.5 444.2,146.8 444.6,147.7 445,148.8 445.4,150.1 445.8,151.4 446.2,150.8 446.6,151.9 447,152.2 447.4,154.2 447.8,153.5 448.3,154 448.7,154.7 449.1,155.9 449.5,157 449.9,159.3 450.3,168.8 450.7,165.6 451.1,163.2 451.5,163.8 451.9,165.2 452.3,165.7 452.7,164.2 453.2,162.4 453.6,164.1 454,164.2 454.4,164.1 454.8,163.8 455.2,164.3 455.6,165.7 456,166.9 456.4,167.4 456.8,168.8 457.2,167.7 457.6,169.5 458,168.5 458.5,169 458.9,170 459.3,170.2 459.7,169.7 460.1,169.3 460.5,170.1 460.9,170.1 461.3,171.1 461.7,173.2 462.1,184.3 462.5,187.2 462.9,185.7 463.4,186.3 463.8,187 464.2,187 464.6,185.7 465,185.7 465.4,185.8 465.8,187.2 466.2,186.1 466.6,186.9 467,187.2 467.4,186.2 467.8,186.1 468.2,187.3 468.7,186.7 469.1,186.1 469.5,186.9 469.9,186.2 470.3,186.1 470.7,185.7 471.1,186.9 471.5,187.2 471.9,186.7 472.3,187.3 472.7,185.7 473.1,186 473.6,186.5 474,187.3 474.4,187.3 474.8,186.3 475.2,186.1 475.6,186.4 476,186.5 476.4,187.2 476.8,186 477.2,187 477.6,186.9 478,187 478.4,187 478.9,186.7 479.3,186.2 479.7,186.2 480.1,186.4 480.5,187.6 480.9,186.9 481.3,187.6 481.7,189.1 482.1,188.6 482.5,188.5 482.9,188.7 483.3,189.8 483.8,189.6 484.2,190.8 484.6,190.6 485,190.7 485.4,189.4 485.8,189.1 486.2,189 486.6,189.7 487,190 487.4,189.5 487.8,189.1 488.2,189.3 488.6,189.6 489.1,189.7 489.5,189.7 489.9,189.9 490.3,189.5 490.7,188.5 491.1,189.7 491.5,188.7 491.9,189.1 492.3,188.5 492.7,188.9 493.1,187.6 493.5,187.4 494,187.1 494.4,186.7 494.8,187.8 495.2,187 495.6,186.4 496,186.3 496.4,187.4 496.8,186.7 497.2,186.3 497.6,187.4 498,187.3 498.4,187.9 498.8,186.5 499.3,187.3 499.7,188 500.1,188.1 500.5,188.3 500.9,186.8 501.3,187.3 501.7,187 502.1,187.2 502.5,188.6 502.9,187.9 503.3,188.6 503.7,187.7 504.2,188.5 504.6,187.9 505,187.6 505.4,188.6 505.8,189 506.2,187.7 506.6,188.6 507,188.8 507.4,188.2 507.8,188.6 508.2,188.4 508.6,188.6 509,188.8 509.5,189.5 509.9,189.7 510.3,189.1 510.7,188.8 511.1,189.4 511.5,190.1 511.9,189.3 512.3,189.6 512.7,189.5 513.1,190.6 513.5,190.3 513.9,189.5 514.4,189.7 514.8,190.3 515.2,190.6 515.6,190.9 516,190.1 516.4,190.3 516.8,191.3 517.2,190.9 517.6,190.8 518,191 518.4,192.2 518.8,191.2 519.2,191.7 519.7,191.5 520.1,191.7 520.5,192.4 520.9,192.6 521.3,191.5 521.7,191.2 522.1,192.1 522.5,191.1 522.9,190.8 523.3,192.3 523.7,191.4 524.1,192.1 524.6,191.4 525,192.2 525.4,191.6 525.8,191.3 526.2,191.3 526.6,192.4 527,192.7 527.4,193.4 527.8,192.2 528.2,193.4 528.6,193.4 529,194 529.4,193.8 529.9,194.5 530.3,194.9 530.7,195.3 531.1,193.6 531.5,194 531.9,193.9 532.3,193.6 532.7,195.1 533.1,200.9 533.5,207.6 533.9,205.4 534.3,202.5 534.8,201.7 535.2,203.1 535.6,202.1 536,202.9 536.4,202.4 536.8,202.7 537.2,201.5 537.6,202.5 538,204.6 538.4,210.6 538.8,216.2 539.2,210.6 539.6,204 540.1,202.1 540.5,202.6 540.9,203 541.3,203 541.7,202.8 542.1,203.2 542.5,204.2 542.9,204.7 543.3,203.4 543.7,204.5 544.1,205 544.5,204 545,205.6 545.4,204.3 545.8,205.1 546.2,205 546.6,205.1 547,204.5 547.4,204.6 547.8,204.9 548.2,204.6 548.6,204.9 549,204.5 549.4,204.5 549.8,203.7 550.3,204.8 550.7,204.6 551.1,204.3 551.5,205.2 551.9,205.4 552.3,204.9 552.7,204.5 553.1,205.1 553.5,204.5 553.9,204.7 554.3,205.2 554.7,204.8 555.2,205.4 555.6,205.6 556,204.9 556.4,206 556.8,205.1 557.2,206.3 557.6,207.3 558,210.1 558.4,212.6 558.8,214.1 559.2,214 559.6,215.1 560,213.8 560.5,215.2 560.9,215.5 561.3,215.2 561.7,215.4 562.1,214.5 562.5,216 562.9,215.3 563.3,216.3 563.7,216.4 564.1,215.3 564.5,216.5 564.9,216.9 565.4,215.6 565.8,216.3 566.2,217.1 566.6,216.3 567,217.7 567.4,216.9 567.8,218.2 568.2,217.4 568.6,218.4 569,219.4 569.4,218.5 569.8,219 570.2,219.6 570.7,219.4 571.1,219.1 571.5,220.3 571.9,222.3 572.3,223.1 572.7,221.1 573.1,220.7 573.5,219.5 573.9,220.6 574.3,219.6 574.7,220.3 575.1,220.6 575.6,220.2 576,221.1 576.4,220.7 576.8,220.8 577.2,221.4 577.6,220.2 578,221.8 578.4,221.3 578.8,221 579.2,221.8 579.6,221 580,222.4 580.4,222 580.9,222 581.3,223.1 581.7,222.9 582.1,222.8 582.5,224.1 582.9,223.3 583.3,224.9 583.7,224.3 584.1,225.3 584.5,226.1 584.9,225.6 585.3,226 585.8,225.6 586.2,225.5 586.6,226.3 587,227.4 587.4,229 587.8,229.5 588.2,230.2 588.6,231.3 589,230.4 589.4,231 589.8,232.1 590.2,231.2 590.6,247 591.1,231 591.5,247 591.9,231 592.3,247 592.7,231 593.1,231.9 593.5,232.6 593.9,232.3 594.3,234.3 594.7,235.9 595.1,238.4 595.5,240.2 596,240 596.4,252 596.8,240 597.2,252 597.6,240 598,252 598.4,240.1 598.8,240.9 599.2,240.8 599.6,240.3 600,241.8 600.4,241.4 600.8,240.5 601.3,253 601.7,240.5 602.1,253 602.5,240.5 602.9,253 603.3,240.5 603.7,253 604.1,240.5 604.5,249.5 604.9,250.5 605.3,252.5 605.7,253.9 606.2,254.6 606.6,254.3 607,254.3 607.4,254.2 607.8,255.6 608.2,255.7 608.6,255.7 609,256.5 609.4,256.5 609.8,257.6 610.2,257.2 610.6,256.1 611,256.8 611.5,255.1 611.9,255.6 612.3,255 612.7,254.8 613.1,255.2 613.5,257.1 613.9,256.4 614.3,258 614.7,259.3 615.1,258.4 615.5,258.7 615.9,259.6 616.4,259.6 616.8,259.9 617.2,260.4 617.6,259.5 618,259.9 618.4,260 618.8,259.8 619.2,261.3 619.6,261.3 620,261.4 620.4,260.4 620.8,262.1 621.2,262.2 621.7,261.9 622.1,262.6 622.5,262.4 622.9,262.3 623.3,262.3 623.7,262.8 624.1,262.7 624.5,263.4 624.9,264.4 625.3,264.5 625.7,264.9 626.1,264.8 626.6,264.2 627,264.8 627.4,264.8 627.8,265.5 628.2,265.2 628.6,264.9 629,265.7 629.4,266.4 629.8,265.3 630.2,266.5 630.6,265.1 631,265.7 631.4,265.8 631.9,266.7 632.3,267.2 632.7,266.7 633.1,265.6 633.5,266.2 633.9,264.8 634.3,264.3 634.7,265 635.1,264.1 635.5,263.8 635.9,263.3 636.3,263.9 636.8,263.1 637.2,263.9 637.6,263.7 638,264.1 638.4,263.5 638.8,264.1 639.2,263.9 639.6,263.6 640,263.5 640.4,264.2 640.8,263.3 641.2,264.7 641.6,263.4 642.1,263.2 642.5,263.3 642.9,264.7 643.3,263.7 643.7,263.4 644.1,263.2 644.5,263.2 644.9,264.3 645.3,264.2 645.7,264.2 646.1,264.2 646.5,263 647,263.8 647.4,263.3 647.8,264 648.2,263.9 648.6,263.5 649,260 649.4,259.2 649.8,255 650.2,251.2 650.6,247 651,244.5 651.4,244 651.8,243.5 652.3,244.5 652.7,244.1 653.1,243.5 653.5,243.5 653.9,242.8 654.3,242 654.7,241.5 655.1,241.3 655.5,242.2 655.9,241 656.3,241 656.7,241 657.2,240 657.6,240 658,239.7 658.4,240 658.8,239 659.2,238.5 659.6,239.2 660,238 660.4,236.4 660.8,233.8 661.2,230.6 661.6,229.1 662,227 662.5,225.4 662.9,222.5 663.3,216.9 663.7,200.5 664.1,176 664.5,160.8 664.9,143.1 665.3,137.1 665.7,131.5 666.1,129.3 666.5,133.3 666.9,137.9 667.4,142.3 667.8,144.8 668.2,148.8 668.6,150.9 669,153.4 669.4,154.4 669.8,157 670.2,159.2 670.6,162.9 671,164.8 671.4,168.6 671.8,170.2 672.2,172.8 672.7,175.9 673.1,177 673.5,177.8 673.9,180.2 674.3,180.7 674.7,183.4 675.1,184.9 675.5,187.2 675.9,189.1 676.3,190.8 676.7,192.8 677.1,194.4 677.6,196.6 678,195.1 678.4,196.3 678.8,194.7 679.2,194.8 679.6,194.8 680,195.7 680.4,196.2 680.8,197.2 681.2,199.3 681.6,199.4 682,201.1 682.4,202.4 682.9,204 683.3,205.2 683.7,206.1 684.1,206.8 684.5,207.9 684.9,208.7 685.3,211 685.7,211.8 686.1,223 686.5,208 686.9,223 687.3,208 687.8,223 688.2,208 688.6,223 689,219.8 689.4,220.6 689.8,223 690.2,224.5 690.6,224.3 691,223.6 691.4,224.3 691.8,225.1 692.2,224.1 692.6,224.1 693.1,224.4 693.5,225.2 693.9,225.6 694.3,224.9 694.7,225.6 695.1,226.4 695.5,227.2 695.9,228.2 696.3,228.3 696.7,229.3 697.1,230.4 697.5,234.6 698,237.1 698.4,236.6 698.8,238.4 699.2,237.2 699.6,238 700,239.3 700.4,239.3 700.8,239.5 701.2,239.3 701.6,239.2 702,240.3 702.4,239.8 702.8,240.3 703.3,241.1 703.7,240.9 704.1,241.9 704.5,243 704.9,243.2 705.3,243.3 705.7,243.9 706.1,244.2 706.5,244.4 706.9,246 707.3,249 707.7,232 708.2,249 708.6,232 709,249 709.4,232 709.8,249 710.2,248.9 710.6,249.7 711,250.2 711.4,249.6 711.8,250 712.2,250.5 712.6,250.2 713,250.1 713.5,251.1 713.9,251.6 714.3,251.6 714.7,251.7 715.1,252.1 715.5,252.1 715.9,252.2 716.3,252.1 716.7,252 717.1,252.8 717.5,252.1 717.9,252.8 718.4,253.7 718.8,253.7 719.2,253.8 719.6,253.4 720,253.9 720.4,254.2 720.8,254.8 721.2,254.8 721.6,255.5 722,256.2 722.4,255.3 722.8,256.4 723.2,256.9 723.7,256.6 724.1,257 724.5,257.7 724.9,256.1 725.3,256.9 725.7,256.2 726.1,257.2 726.5,257.4 726.9,256.7 727.3,255.9 727.7,256.7 728.1,256.5 728.6,256.7 729,256.3 729.4,256.4 729.8,256.6 730.2,256 730.6,255.7 731,256.5 731.4,255.2 731.8,255.9 732.2,255 732.6,255.1 733,253.4 733.4,254.3 733.9,252.7 734.3,251.6 734.7,250.6 735.1,248.3 735.5,245.2 735.9,243.5 736.3,240.3 736.7,237.3 737.1,233.2 737.5,229.6 737.9,226.1 738.3,224.8 738.8,223.2 739.2,220.6 739.6,219.2 740,224.6 740.4,228.2 740.8,232.3 741.2,236.5 741.6,241.9 742,246.3 742.4,250.3 742.8,253.6 743.2,249 743.6,243.6 744.1,240.7 744.5,239.1 744.9,238.9 745.3,238.6 745.7,238 746.1,236.9 746.5,236.7 746.9,237.1 747.3,236.4 747.7,237.6 748.1,236.8 748.5,237.6 749,236.6 749.4,233.9 749.8,230.4 750.2,227.7 750.6,224.6 751,221.5 751.4,220 751.8,219.4 752.2,220.3 752.6,221.4 753,222.6 753.4,223.5 753.8,224.9 754.3,225.1 754.7,224.3 755.1,225 755.5,224.6 755.9,223 756.3,224 756.7,223.9 757.1,222.6 757.5,218.2 757.9,216.1 758.3,212.2 758.7,207.5 759.2,202.7 759.6,197.8 760,190.8 760.4,179.8 760.8,177.8 761.2,180.1 761.6,182.4 762,185.5 762.4,188.9 762.8,192.6 763.2,203.8 763.6,217.9 764,228.7 764.5,223.8 764.9,217.2 765.3,210 765.7,201.7 766.1,194.8 766.5,190.5 766.9,191.2 767.3,190.7 767.7,192.2 768.1,192.5 768.5,193.3 768.9,191.7 769.4,191.3 769.8,189.6 770.2,187.9 770.6,186.7 771,185.4 771.4,186.6 771.8,186.5 772.2,187.9 772.6,188 773,189.2 773.4,189.9 773.8,188.3 774.2,186.6 774.7,183 775.1,182.1 775.5,178.2 775.9,175.1 776.3,174.4 776.7,174.9 777.1,174.3 777.5,174.6 777.9,175.7 778.3,174.9 778.7,176.5 779.1,177.2 779.6,176.9 780,178.6 780.4,177.6 780.8,176.6 781.2,174.2 781.6,173.9 782,171.7 782.4,170.3 782.8,170.9 783.2,169.8 783.6,171.3 784,171.4 784.4,171.3 784.9,172.5 785.3,171.4 785.7,171.1 786.1,170.7 786.5,170.5 786.9,169.1 787.3,168.9 787.7,168.4 788.1,168.1 788.5,168.1 788.9,168.3 789.3,170.4 789.8,170.8 790.2,172.1 790.6,173.2 791,177 791.4,181.2 791.8,184 792.2,184.6 792.6,181 793,178.1 793.4,175.2 793.8,173.5 794.2,171.5 794.6,171 795.1,171 795.5,173.5 795.9,175 796.3,175.8 796.7,176.2 797.1,177.3 797.5,175.1 797.9,173.8 798.3,173.4 798.7,171.3 799.1,170 799.5,169.4 800,168.8 800.4,167.5 800.8,166.7 801.2,165.9 801.6,165.3 802,164.4 802.4,163.9 802.8,162.3 803.2,163.9 803.6,165.5 804,168.1 804.4,169 804.8,171.5 805.3,173.7 805.7,177.5 806.1,179.3 806.5,176.4 806.9,173.4 807.3,171.8 807.7,169.7 808.1,167.9 808.5,165.8 808.9,164.4 809.3,164.5 809.7,164.4 810.2,164.7 810.6,165.1 811,165.7 811.4,165.7 811.8,168.3 812.2,169 812.6,170.8 813,173.6 813.4,174.8 813.8,177 814.2,177.6 814.6,178.1 815,180 815.5,181.5 815.9,183.3 816.3,182.9 816.7,180.7 817.1,179.2 817.5,177.3 817.9,177 818.3,175.1 818.7,173.7 819.1,173 819.5,173.8 819.9,175.9 820.4,175.8 820.8,178.1 821.2,177.5 821.6,179.7 822,179.3 822.4,180.1 822.8,182.2 823.2,182.4 823.6,184.2 824,184.2 824.4,184.9 824.8,187.1 825.2,188.3 825.7,190 826.1,191.3 826.5,191.7 826.9,194.1 827.3,195.7 827.7,196.8 828.1,199.6 828.5,201.7 828.9,206.1 829.3,209 829.7,208.9 830.1,208.5 830.6,209.2 831,209.1 831.4,207.4 831.8,209.5 832.2,213 832.6,214.7 833,218.6 833.4,218 833.8,217.4 834.2,218 834.6,218.4 835,218.2 835.4,218.7 835.9,217.9 836.3,219.4 836.7,219.3 837.1,220.4 837.5,221 837.9,221.2 838,221.5" stroke="#ff0000" stroke-width="2.08"/>
<polyline points="838,218.3 911.2,238.9 1135.8,190.2" stroke="#0000ff" stroke-width="2.08" stroke-linecap="square"/>
</g>
<rect x="101.5" y="70.5" width="1084" height="207" fill="none" stroke="#000" stroke-width="1.1"/>
<line x1="225.5" y1="277.5" x2="225.5" y2="282.4" stroke="#000" stroke-width="1"/>
<g filter="url(#nf)"><text transform="scale(1.06,1)" x="196.6 204.6 212.7 220.8" y="298" font-size="14.6" fill="#000">2022</text></g>
<line x1="374.5" y1="277.5" x2="374.5" y2="282.4" stroke="#000" stroke-width="1"/>
<g filter="url(#nf)"><text transform="scale(1.06,1)" x="337.1 345.2 353.3 361.3" y="298" font-size="14.6" fill="#000">2023</text></g>
<line x1="523.5" y1="277.5" x2="523.5" y2="282.4" stroke="#000" stroke-width="1"/>
<g filter="url(#nf)"><text transform="scale(1.06,1)" x="477.7 485.8 493.8 501.9" y="298" font-size="14.6" fill="#000">2024</text></g>
<line x1="672.5" y1="277.5" x2="672.5" y2="282.4" stroke="#000" stroke-width="1"/>
<g filter="url(#nf)"><text transform="scale(1.06,1)" x="618.3 626.3 634.4 642.5" y="298" font-size="14.6" fill="#000">2025</text></g>
<line x1="821.5" y1="277.5" x2="821.5" y2="282.4" stroke="#000" stroke-width="1"/>
<g filter="url(#nf)"><text transform="scale(1.06,1)" x="758.8 766.9 775 783" y="298" font-size="14.6" fill="#000">2026</text></g>
<line x1="970.5" y1="277.5" x2="970.5" y2="282.4" stroke="#000" stroke-width="1"/>
<g filter="url(#nf)"><text transform="scale(1.06,1)" x="899.4 907.5 915.5 923.6" y="298" font-size="14.6" fill="#000">2027</text></g>
<line x1="1119.5" y1="277.5" x2="1119.5" y2="282.4" stroke="#000" stroke-width="1"/>
<g filter="url(#nf)"><text transform="scale(1.06,1)" x="1040 1048 1056.1 1064.2" y="298" font-size="14.6" fill="#000">2028</text></g>
<line x1="96.6" y1="90.5" x2="101.5" y2="90.5" stroke="#000" stroke-width="1"/>
<g filter="url(#nf)"><text transform="scale(1.06,1)" x="34 42.1 46.1 54.1 62.2 70.2 78.2" y="96" font-size="14.6" fill="#000">0.00044</text></g>
<line x1="96.6" y1="138.5" x2="101.5" y2="138.5" stroke="#000" stroke-width="1"/>
<g filter="url(#nf)"><text transform="scale(1.06,1)" x="34 42.1 46.1 54.1 62.2 70.2 78.2" y="143" font-size="14.6" fill="#000">0.00042</text></g>
<line x1="96.6" y1="185.5" x2="101.5" y2="185.5" stroke="#000" stroke-width="1"/>
<g filter="url(#nf)"><text transform="scale(1.06,1)" x="34 42.1 46.1 54.1 62.2 70.2 78.2" y="191" font-size="14.6" fill="#000">0.00040</text></g>
<line x1="96.6" y1="233.5" x2="101.5" y2="233.5" stroke="#000" stroke-width="1"/>
<g filter="url(#nf)"><text transform="scale(1.06,1)" x="34 42.1 46.1 54.1 62.2 70.2 78.2" y="238" font-size="14.6" fill="#000">0.00038</text></g>
<rect x="108.5" y="77.6" width="135.9" height="128.8" rx="2.8" ry="2.8" fill="#fff" fill-opacity="0.8" stroke="#ccc" stroke-opacity="0.8" stroke-width="1.1"/>
<line x1="114.1" y1="88.8" x2="141.9" y2="88.8" stroke="#007a00" stroke-width="2.08" stroke-linecap="square"/>
<g filter="url(#nf)"><text transform="scale(1.06,1)" x="144 154.3 157.7 165.9" y="94" font-size="14.6" fill="#000">High</text></g>
<line x1="114.1" y1="109.7" x2="141.9" y2="109.7" stroke="#c00010" stroke-width="2.08" stroke-linecap="square"/>
<g filter="url(#nf)"><text transform="scale(1.06,1)" x="143.9 151.2 158.9" y="115" font-size="14.6" fill="#000">Low</text></g>
<line x1="114.1" y1="130.5" x2="141.9" y2="130.5" stroke="#0000e6" stroke-width="2.08" stroke-linecap="square"/>
<g filter="url(#nf)"><text transform="scale(1.06,1)" x="143.6 153.4 156.6 164.2 171" y="136" font-size="14.6" fill="#000">Close</text></g>
<rect x="114.1" y="147" width="27.8" height="9.1" fill="#bfdfbf"/>
<g filter="url(#nf)"><text transform="scale(1.06,1)" x="144.1 154.5 158.1 166.4 174.7 178.1 187.9 196 204.4 212.6" y="157" font-size="14.6" fill="#000">High Range</text></g>
<rect x="114.1" y="167.8" width="27.8" height="9.1" fill="#ffbfbf"/>
<g filter="url(#nf)"><text transform="scale(1.06,1)" x="144 151.7 159.8 170.5 173.9 183.6 191.8 200.1 208.2" y="177" font-size="14.6" fill="#000">Low Range</text></g>
<rect x="114.1" y="188.7" width="27.8" height="9.1" fill="#8080ff"/>
<g filter="url(#nf)"><text transform="scale(1.06,1)" x="143.7 153.8 157.1 165 172 180.1 183.5 193.2 201.4 209.7 217.9" y="198" font-size="14.6" fill="#000">Close Range</text></g>
<g clip-path="url(#c2)">
<polygon points="150.2,478 392.5,373.2 642.5,352 1135.8,344.6 1135.8,418 392.5,443.4 150.2,478.4" fill="#008000" fill-opacity="0.25"/>
<polygon points="150.2,483.2 392.5,502.5 1135.8,447.2 1135.8,483.7 642.5,531.5 392.5,525 150.2,483.5" fill="#ff0000" fill-opacity="0.25"/>
<polygon points="150.2,478.4 392.5,443.4 1135.8,418 1135.8,447.2 392.5,502.5 150.2,483.2" fill="#0000ff" fill-opacity="0.5"/>
</g>
<line x1="215.5" y1="335.5" x2="215.5" y2="542.5" stroke="#b0b0b0" stroke-width="1"/>
<line x1="338.5" y1="335.5" x2="338.5" y2="542.5" stroke="#b0b0b0" stroke-width="1"/>
<line x1="462.5" y1="335.5" x2="462.5" y2="542.5" stroke="#b0b0b0" stroke-width="1"/>
<line x1="586.5" y1="335.5" x2="586.5" y2="542.5" stroke="#b0b0b0" stroke-width="1"/>
<line x1="708.5" y1="335.5" x2="708.5" y2="542.5" stroke="#b0b0b0" stroke-width="1"/>
<line x1="831.5" y1="335.5" x2="831.5" y2="542.5" stroke="#b0b0b0" stroke-width="1"/>
<line x1="955.5" y1="335.5" x2="955.5" y2="542.5" stroke="#b0b0b0" stroke-width="1"/>
<line x1="1079.5" y1="335.5" x2="1079.5" y2="542.5" stroke="#b0b0b0" stroke-width="1"/>
<line x1="101.5" y1="387.5" x2="1185.5" y2="387.5" stroke="#b0b0b0" stroke-width="1"/>
<line x1="101.5" y1="441.5" x2="1185.5" y2="441.5" stroke="#b0b0b0" stroke-width="1"/>
<line x1="101.5" y1="495.5" x2="1185.5" y2="495.5" stroke="#b0b0b0" stroke-width="1"/>
<g clip-path="url(#c2)" fill="none" stroke-linejoin="round">
<polyline points="150.2,479.2 392.5,502.5 1135.8,447.2" stroke="#0000ff" stroke-width="2.08" stroke-linecap="square"/>
</g>
<rect x="101.5" y="335.5" width="1084" height="207" fill="none" stroke="#000" stroke-width="1.1"/>
<line x1="215.5" y1="542.5" x2="215.5" y2="547.4" stroke="#000" stroke-width="1"/>
<g filter="url(#nf)"><text transform="scale(1.06,1)" x="176.2 184.5 192.8 201 209.1 214 222.3" y="562" font-size="14.6" fill="#000">2026-04</text></g>
<line x1="338.5" y1="542.5" x2="338.5" y2="547.4" stroke="#000" stroke-width="1"/>
<g filter="url(#nf)"><text transform="scale(1.06,1)" x="292.2 300.5 308.8 317.1 325.2 330 338.3" y="562" font-size="14.6" fill="#000">2026-07</text></g>
<line x1="462.5" y1="542.5" x2="462.5" y2="547.4" stroke="#000" stroke-width="1"/>
<g filter="url(#nf)"><text transform="scale(1.06,1)" x="409.2 417.5 425.8 434.1 442.2 447 455.3" y="562" font-size="14.6" fill="#000">2026-10</text></g>
<line x1="586.5" y1="542.5" x2="586.5" y2="547.4" stroke="#000" stroke-width="1"/>
<g filter="url(#nf)"><text transform="scale(1.06,1)" x="526.2 534.5 542.8 551 559.1 564 572.3" y="562" font-size="14.6" fill="#000">2027-01</text></g>
<line x1="708.5" y1="542.5" x2="708.5" y2="547.4" stroke="#000" stroke-width="1"/>
<g filter="url(#nf)"><text transform="scale(1.06,1)" x="641.3 649.6 657.9 666.1 674.2 679.1 687.4" y="562" font-size="14.6" fill="#000">2027-04</text></g>
<line x1="831.5" y1="542.5" x2="831.5" y2="547.4" stroke="#000" stroke-width="1"/>
<g filter="url(#nf)"><text transform="scale(1.06,1)" x="757.3 765.6 773.9 782.2 790.3 795.1 803.4" y="562" font-size="14.6" fill="#000">2027-07</text></g>
<line x1="955.5" y1="542.5" x2="955.5" y2="547.4" stroke="#000" stroke-width="1"/>
<g filter="url(#nf)"><text transform="scale(1.06,1)" x="874.3 882.6 890.9 899.1 907.3 912.1 920.4" y="562" font-size="14.6" fill="#000">2027-10</text></g>
<line x1="1079.5" y1="542.5" x2="1079.5" y2="547.4" stroke="#000" stroke-width="1"/>
<g filter="url(#nf)"><text transform="scale(1.06,1)" x="991.3 999.6 1007.9 1016.1 1024.2 1029.1 1037.4" y="562" font-size="14.6" fill="#000">2028-01</text></g>
<line x1="96.6" y1="387.5" x2="101.5" y2="387.5" stroke="#000" stroke-width="1"/>
<g filter="url(#nf)"><text transform="scale(1.06,1)" x="34 42.1 46.1 54.1 62.2 70.2 78.2" y="393" font-size="14.6" fill="#000">0.00042</text></g>
<line x1="96.6" y1="441.5" x2="101.5" y2="441.5" stroke="#000" stroke-width="1"/>
<g filter="url(#nf)"><text transform="scale(1.06,1)" x="34 42.1 46.1 54.1 62.2 70.2 78.2" y="447" font-size="14.6" fill="#000">0.00040</text></g>
<line x1="96.6" y1="495.5" x2="101.5" y2="495.5" stroke="#000" stroke-width="1"/>
<g filter="url(#nf)"><text transform="scale(1.06,1)" x="34 42.1 46.1 54.1 62.2 70.2 78.2" y="501" font-size="14.6" fill="#000">0.00038</text></g>
<rect x="108.5" y="342.7" width="135.9" height="128.8" rx="2.8" ry="2.8" fill="#fff" fill-opacity="0.8" stroke="#ccc" stroke-opacity="0.8" stroke-width="1.1"/>
<line x1="114.1" y1="353.9" x2="141.9" y2="353.9" stroke="#005c00" stroke-width="2.08" stroke-linecap="square"/>
<g filter="url(#nf)"><text transform="scale(1.06,1)" x="144 154.3 157.7 165.9" y="359" font-size="14.6" fill="#000">High</text></g>
<line x1="114.1" y1="374.8" x2="141.9" y2="374.8" stroke="#dc0000" stroke-width="2.08" stroke-linecap="square"/>
<g filter="url(#nf)"><text transform="scale(1.06,1)" x="143.9 151.2 158.9" y="380" font-size="14.6" fill="#000">Low</text></g>
<line x1="114.1" y1="395.6" x2="141.9" y2="395.6" stroke="#0000a8" stroke-width="2.08" stroke-linecap="square"/>
<g filter="url(#nf)"><text transform="scale(1.06,1)" x="143.6 153.4 156.6 164.2 171" y="401" font-size="14.6" fill="#000">Close</text></g>
<rect x="114.1" y="412.1" width="27.8" height="9.1" fill="#bfdfbf"/>
<g filter="url(#nf)"><text transform="scale(1.06,1)" x="144.1 154.5 158.1 166.4 174.7 178.1 187.9 196 204.4 212.6" y="422" font-size="14.6" fill="#000">High Range</text></g>
<rect x="114.1" y="432.9" width="27.8" height="9.1" fill="#ffbfbf"/>
<g filter="url(#nf)"><text transform="scale(1.06,1)" x="144 151.7 159.8 170.5 173.9 183.6 191.8 200.1 208.2" y="442" font-size="14.6" fill="#000">Low Range</text></g>
<rect x="114.1" y="453.8" width="27.8" height="9.1" fill="#8080ff"/>
<g filter="url(#nf)"><text transform="scale(1.06,1)" x="143.7 153.8 157.1 165 172 180.1 183.5 193.2 201.4 209.7 217.9" y="463" font-size="14.6" fill="#000">Close Range</text></g>
<g filter="url(#nf)"><text transform="scale(1.06,1)" x="591.2 601.3 609.8 614.2" y="317" font-size="14.6" fill="#000">Date</text></g>
<g filter="url(#nf)"><text transform="scale(1.06,1)" x="591.2 601.3 609.8 614.2" y="582" font-size="14.6" fill="#000">Date</text></g>
<g filter="url(#nf)"><text transform="translate(26,175.6) rotate(-90) scale(1.06,1)" x="-16 -7.5 -2.5 0.4 7" y="0" font-size="14.6" fill="#000">Price</text></g>
<g filter="url(#nf)"><text transform="translate(26,440.4) rotate(-90) scale(1.06,1)" x="-16 -7.5 -2.5 0.4 7" y="0" font-size="14.6" fill="#000">Price</text></g>
<g filter="url(#nf)"><text transform="scale(1.06,1)" x="261 271.2 281 291.2 302.4 312.9 325.3 329.8 341 346.1 351.5 361.7 371.5 381.7 392.9 403.4 417.2 428.4 439.7 445.8 450.9 455 464.7 474.6 484.5 490.1 495.5 505.5 512 527 532 542.1 548.5 552.5 561.2 570.9 575.9 586.1 592.1 601.9 612 616 625.4 631.1 635.1 644.9 654.8 659.9 665 670.1 680 690 699.9 709.8 714.9 724.8 734.8 744.8 754.7 759.7 769.7 779.6 789.6 799.5 804.5 809.7 819.5 829.3 839.1 844.2 854.1 864.1" y="26" font-size="17.5" fill="#000">TZSUSD X (TZSUSD=X) long term price prediction : 2026,2027,2028 (Feb 12)</text></g>
<g filter="url(#nf)"><text transform="scale(1.06,1)" x="281.5 291.2 300.9 313.6 323.5 329.6 339.4 349.3 354.3 364.3 373.4 377.2 388 394.1 403.9 413.9 418 427.3 432.7 437.3 448.1 454.5 458.5 467.1 476.8 481.7 490.3 500.2 515.2 520 529.8 539.7 549.5 553.9 567.9 577.6 587.7 591.7 600.3 610.2 613.2 624 630.1 639.9 649.9 653.9 663.2 669 673 682.7 692.6 697.4 706 716 730.9 735.8 745.5 755.4 765.3 769.7 783.6 793.4 803.4 807.5 816.1 825.9 829.6 840.8 850.6 860.5 864.8 873.5 882.2 886 894.5 899.3 907.9 917.9" y="62" font-size="17.5" fill="#000">powered by Predict-Price.com and MagicalPrediction.com and MagicalAnalysis.com</text></g>
<g filter="url(#nf)"><text transform="scale(1.06,1)" x="202.8 229.9 245.1 269.6 294.8 304.9 328.2 341.7 353.3 380.4 396.3 406.5 428 452.4 464.5 486 511" y="161.3" font-size="43.8" fill="#000" fill-opacity="0.052">Predict-Price.com</text></g>
<g filter="url(#nf)"><text transform="scale(1.06,1)" x="580.2 607.4 622.6 647 672.2 682.3 705.6 719.2 730.7 757.9 773.8 783.9 805.5 829.8 842 863.5 888.4" y="161.3" font-size="43.8" fill="#000" fill-opacity="0.052">Predict-Price.com</text></g>
<g filter="url(#nf)"><text transform="scale(1.06,1)" x="202.8 229.9 245.1 269.6 294.8 304.9 328.2 341.7 353.3 380.4 396.3 406.5 428 452.4 464.5 486 511" y="311.3" font-size="43.8" fill="#000" fill-opacity="0.052">Predict-Price.com</text></g>
<g filter="url(#nf)"><text transform="scale(1.06,1)" x="580.2 607.4 622.6 647 672.2 682.3 705.6 719.2 730.7 757.9 773.8 783.9 805.5 829.8 842 863.5 888.4" y="311.3" font-size="43.8" fill="#000" fill-opacity="0.052">Predict-Price.com</text></g>
<g filter="url(#nf)"><text transform="scale(1.06,1)" x="202.8 229.9 245.1 269.6 294.8 304.9 328.2 341.7 353.3 380.4 396.3 406.5 428 452.4 464.5 486 511" y="461.3" font-size="43.8" fill="#000" fill-opacity="0.052">Predict-Price.com</text></g>
<g filter="url(#nf)"><text transform="scale(1.06,1)" x="580.2 607.4 622.6 647 672.2 682.3 705.6 719.2 730.7 757.9 773.8 783.9 805.5 829.8 842 863.5 888.4" y="461.3" font-size="43.8" fill="#000" fill-opacity="0.052">Predict-Price.com</text></g>
</svg>
</body></html>
